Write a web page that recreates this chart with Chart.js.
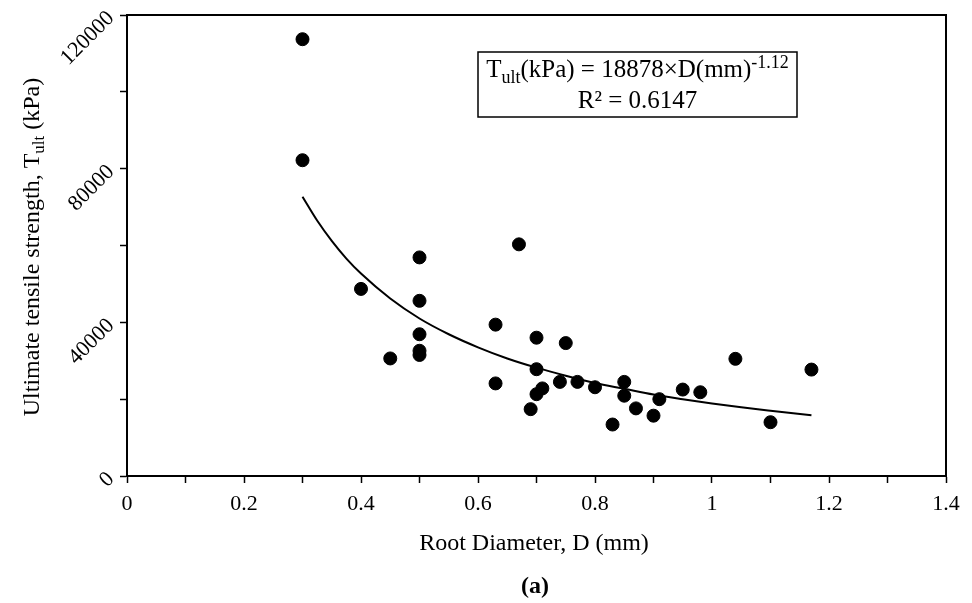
<!DOCTYPE html>
<html>
<head>
<meta charset="utf-8">
<script src="https://cdn.jsdelivr.net/npm/chart.js@4"></script>
<style>
  html, body { margin: 0; padding: 0; background: #fff; }
  #wrap { width: 972px; height: 603px; }
</style>
</head>
<body>
<div id="wrap"><canvas id="rootChart" width="972" height="603"></canvas></div>
<script>
// measured points: root diameter (mm) and tensile strength (kPa)
const diameters = [0.30, 0.30, 0.40, 0.45, 0.50, 0.50, 0.50, 0.50, 0.50, 0.63, 0.63, 0.67, 0.69, 0.70, 0.70, 0.70,
  0.71, 0.74, 0.75, 0.77, 0.80, 0.83, 0.85, 0.85, 0.87, 0.90, 0.91, 0.95, 0.98, 1.04, 1.10, 1.17];
const strengths = [113700, 82200, 48700, 30600, 56900, 45600, 36900, 32600, 31500, 39400, 24100, 60300, 17400, 36000, 27800, 21300,
  22800, 24500, 34600, 24500, 23100, 13400, 24500, 20900, 17600, 15700, 20000, 22500, 21800, 30500, 14000, 27700];

// power trend line
const fitDiameters = [0.30, 0.325, 0.35, 0.375, 0.40, 0.45, 0.50, 0.55, 0.60, 0.65, 0.70, 0.75, 0.80, 0.85, 0.90, 0.95, 1.00, 1.05, 1.10, 1.17];
const fitStrengths = [72700, 66500, 61200, 56600, 52700, 46200, 41000, 36900, 33500, 30600, 28200, 26100, 24200, 22700, 21200, 20000, 18900, 17900, 17000, 15800];

const xTickLabels = ['0', '0.2', '0.4', '0.6', '0.8', '1', '1.2', '1.4'];
const yTickLabels = ['0', '40000', '80000', '120000'];

const SERIF = '"Liberation Serif", "Times New Roman", serif';

const toXY = (xs, ys) => xs.map((x, i) => ({ x: x, y: ys[i] }));

// текст с нижними/верхними индексами: части вида [текст, 'sub'|'sup'|null]
function partsWidth(c, parts, size) {
  let w = 0;
  for (const [t, kind] of parts) {
    c.font = (kind ? Math.round(size * 0.7) : size) + 'px ' + SERIF;
    w += c.measureText(t).width;
  }
  return w;
}
function drawParts(c, parts, x, y, size) {
  for (const [t, kind] of parts) {
    c.font = (kind ? Math.round(size * 0.7) : size) + 'px ' + SERIF;
    let dy = 0;
    if (kind === 'sub') dy = size * 0.22;
    if (kind === 'sup') dy = -size * 0.36;
    c.fillText(t, x, y + dy);
    x += c.measureText(t).width;
  }
}

const decorPlugin = {
  id: 'decor',
  afterDraw(chart) {
    const c = chart.ctx;
    const a = chart.chartArea;
    c.save();
    // рамка области построения
    c.strokeStyle = '#000';
    c.lineWidth = 2;
    c.strokeRect(a.left, a.top, a.right - a.left, a.bottom - a.top);

    c.fillStyle = '#000';
    c.textBaseline = 'alphabetic';
    c.textAlign = 'left';

    // подпись оси Y
    const yTitle = [['Ultimate tensile strength, T', null], ['ult', 'sub'], [' (kPa)', null]];
    const wy = partsWidth(c, yTitle, 24);
    c.save();
    c.translate(39, 247);
    c.rotate(-Math.PI / 2);
    drawParts(c, yTitle, -wy / 2, 0, 24);
    c.restore();

    // подпись оси X
    c.font = '24px ' + SERIF;
    c.textAlign = 'center';
    c.fillText('Root Diameter, D (mm)', 534, 550);
    c.font = 'bold 24px ' + SERIF;
    c.fillText('(a)', 535, 593);
    c.textAlign = 'left';

    // рамка с уравнением
    const bx = 478, by = 52, bw = 319, bh = 65;
    c.lineWidth = 1.5;
    c.strokeRect(bx, by, bw, bh);
    const line1 = [['T', null], ['ult', 'sub'], ['(kPa) = 18878\u00d7D(mm)', null], ['-1.12', 'sup']];
    const line2 = [['R\u00b2 = 0.6147', null]];
    const w1 = partsWidth(c, line1, 25);
    drawParts(c, line1, bx + bw / 2 - w1 / 2, 77, 25);
    const w2 = partsWidth(c, line2, 25);
    drawParts(c, line2, bx + bw / 2 - w2 / 2, 108, 25);
    c.restore();
  }
};

const ctx = document.getElementById('rootChart').getContext('2d');
const rootChart = new Chart(ctx, {
  type: 'scatter',
  data: {
    datasets: [
      {
        label: 'Data',
        data: toXY(diameters, strengths),
        backgroundColor: '#000',
        borderColor: '#000',
        pointRadius: 6.5,
        pointHoverRadius: 6.5
      },
      {
        label: 'Power fit',
        data: toXY(fitDiameters, fitStrengths),
        showLine: true,
        borderColor: '#000',
        borderWidth: 2,
        pointRadius: 0,
        cubicInterpolationMode: 'monotone',
        fill: false
      }
    ]
  },
  options: {
    responsive: false,
    animation: false,
    events: [],
    layout: { padding: { left: 0, top: 15, right: 26, bottom: 0 } },
    plugins: {
      legend: { display: false },
      tooltip: { enabled: false },
      title: { display: false }
    },
    scales: {
      x: {
        type: 'linear',
        min: 0,
        max: 1.4,
        border: { display: true, color: '#000', width: 2 },
        grid: { drawOnChartArea: false, drawTicks: true, tickLength: 7, tickWidth: 1.5, tickColor: '#000' },
        ticks: {
          stepSize: 0.1,
          color: '#000',
          padding: 8,
          maxRotation: 0,
          autoSkip: false,
          font: { family: SERIF, size: 22 },
          callback: (v) => {
            const k = Math.round(v * 10);
            return k % 2 === 0 ? xTickLabels[k / 2] : '';
          }
        },
        afterFit: (s) => { s.height = 127; s.paddingLeft = 0; s.paddingRight = 0; }
      },
      y: {
        type: 'linear',
        min: 0,
        max: 120000,
        border: { display: true, color: '#000', width: 2 },
        grid: { drawOnChartArea: false, drawTicks: true, tickLength: 7, tickWidth: 1.5, tickColor: '#000' },
        ticks: {
          stepSize: 20000,
          color: '#000',
          padding: 9,
          minRotation: 45,
          maxRotation: 45,
          autoSkip: false,
          font: { family: SERIF, size: 22 },
          callback: (v) => {
            const k = Math.round(v / 20000);
            return k % 2 === 0 ? yTickLabels[k / 2] : '';
          }
        },
        afterFit: (s) => { s.width = 127; s.paddingTop = 0; s.paddingBottom = 0; }
      }
    }
  },
  plugins: [decorPlugin]
});
</script>
</body>
</html>
